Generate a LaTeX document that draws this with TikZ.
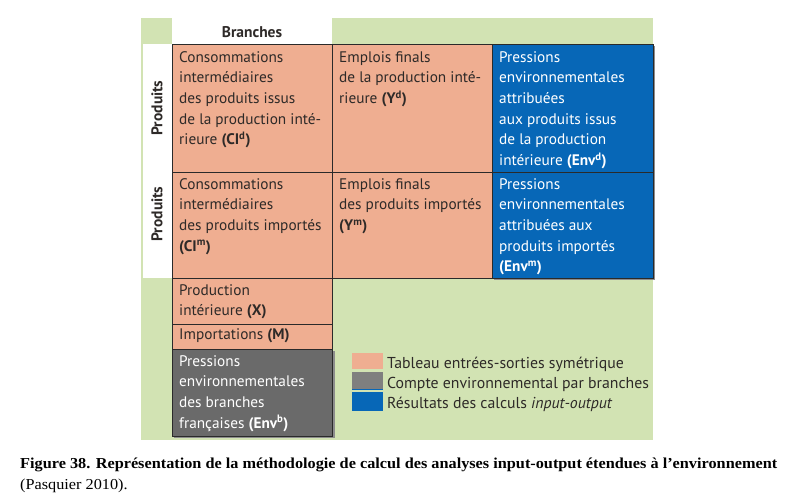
\documentclass[tikz,border=0pt]{standalone}
\usepackage{fontspec}
\setmainfont{Liberation Serif}
\setsansfont{PT Sans}
\newfontfamily\capfont[FakeStretch=1.07]{Liberation Serif}
\definecolor{bggreen}{HTML}{D2E3B3}
\definecolor{salmon}{HTML}{EFAE91}
\definecolor{envgray}{HTML}{6A6A6A}
\definecolor{leggray}{HTML}{7F7F7F}
\definecolor{resblue}{HTML}{0767B7}
\definecolor{ink}{HTML}{2E2A28}
\definecolor{edge}{HTML}{2A2A2A}
\tikzset{
  cell/.style={draw=edge, line width=1.3pt, anchor=north west, inner sep=0pt, rectangle},
  salmoncell/.style={cell, fill=salmon},
  bluecell/.style={cell, fill=resblue},
  graycell/.style={cell, fill=envgray},
  txt/.style={anchor=north west, inner sep=0pt, align=left, font=\sffamily\fontsize{15.3}{20.7}\selectfont, text=ink},
  wtxt/.style={txt, text=white},
  rowlab/.style={rotate=90, font=\sffamily\bfseries\fontsize{15.5}{18}\selectfont, text=ink, inner sep=0pt},
  legbox/.style={anchor=north west, inner sep=0pt, minimum width=31pt},
  legtxt/.style={anchor=west, inner sep=0pt, font=\sffamily\fontsize{15.8}{18}\selectfont, text=ink},
}
\newcommand{\bsup}[1]{\textbf{(#1)}}
\begin{document}
\begin{tikzpicture}[x=1pt,y=-1pt]
\useasboundingbox (0,0) rectangle (787,503);
\fill[white] (0,0) rectangle (787,503);
% green background
\node[anchor=north west, fill=bggreen, minimum width=512pt, minimum height=422pt, inner sep=0pt] (bg) at (141,18) {};
% white header cells
\node[anchor=north west, fill=white, minimum width=160pt, minimum height=26pt, inner sep=0pt] (brh) at (172,18) {};
\node[font=\sffamily\bfseries\fontsize{15.5}{18}\selectfont, text=ink] (branches) at (252,32) {Branches};
\node[anchor=north west, fill=white, minimum width=29pt, minimum height=234pt, inner sep=0pt] (prh) at (143,44) {};
\node[rowlab] (prod1) at (157,108) {Produits};
\node[rowlab] (prod2) at (157,214) {Produits};
% shadows
\fill[black!45] (494,46) rectangle (655,280);
\fill[black!45] (174,351) rectangle (335,438);
% row 1
\node[salmoncell, minimum width=160pt, minimum height=128pt] (c11) at (172,44) {};
\node[salmoncell, minimum width=160pt, minimum height=128pt] (c12) at (332,44) {};
\node[bluecell, minimum width=161pt, minimum height=128pt] (c13) at (492,44) {};
% row 2
\node[salmoncell, minimum width=160pt, minimum height=106pt] (c21) at (172,172) {};
\node[salmoncell, minimum width=160pt, minimum height=106pt] (c22) at (332,172) {};
\node[bluecell, minimum width=161pt, minimum height=106pt] (c23) at (492,172) {};
% lower column
\node[salmoncell, minimum width=160pt, minimum height=46pt] (c31) at (172,278) {};
\node[salmoncell, minimum width=160pt, minimum height=25pt] (c41) at (172,324) {};
\node[graycell, minimum width=160pt, minimum height=87pt] (c51) at (172,349) {};
% texts
\node[txt] (t11) at ([shift={(7,7)}]c11.north west) {Consommations\\intermédiaires\\des produits issus\\de la production inté-\\rieure \bsup{CI\textsuperscript{d}}};
\node[txt] (t12) at ([shift={(7,7)}]c12.north west) {Emplois finals\\de la production inté-\\rieure \bsup{Y\textsuperscript{d}}};
\node[wtxt] (t13) at ([shift={(7,7)}]c13.north west) {Pressions\\environnementales\\attribuées\\aux produits issus\\de la production\\intérieure \bsup{Env\textsuperscript{d}}};
\node[txt] (t21) at ([shift={(7,6)}]c21.north west) {Consommations\\intermédiaires\\des produits importés\\\bsup{CI\textsuperscript{m}}};
\node[txt] (t22) at ([shift={(7,6)}]c22.north west) {Emplois finals\\des produits importés\\\bsup{Y\textsuperscript{m}}};
\node[wtxt] (t23) at ([shift={(7,6)}]c23.north west) {Pressions\\environnementales\\attribuées aux\\produits importés\\\bsup{Env\textsuperscript{m}}};
\node[txt] (t31) at ([shift={(7,6)}]c31.north west) {Production\\intérieure \bsup{X}};
\node[txt] (t41) at ([shift={(7,4)}]c41.north west) {Importations \bsup{M}};
\node[wtxt] (t51) at ([shift={(7,6)}]c51.north west) {Pressions\\environnementales\\des branches\\françaises \bsup{Env\textsuperscript{b}}};
% legend
\node[legbox, fill=salmon, minimum height=16pt] (l1) at (352,353) {};
\node[legbox, fill=leggray, minimum height=17pt] (l2) at (352,372) {};
\node[legbox, fill=resblue, minimum height=19pt] (l3) at (352,392) {};
\draw[resblue, line width=1pt] (l2.south west) -- (l2.south east);
\node[legtxt] (lt1) at (387,364) {Tableau entrées-sorties symétrique};
\node[legtxt] (lt2) at (387,384) {Compte environnemental par branches};
\node[legtxt] (lt3) at (387,404) {Résultats des calculs \textit{input-output}};
% caption
\node[anchor=base west, inner sep=0pt, font=\capfont\bfseries\fontsize{15.2}{17}\selectfont] (cap1) at (20,468) {Figure 38. Représentation de la méthodologie de calcul des analyses input-output étendues à l’environnement};
\node[anchor=base west, inner sep=0pt, font=\capfont\fontsize{15.2}{17}\selectfont] (cap2) at (20,489) {(Pasquier 2010).};
\end{tikzpicture}
\end{document}
